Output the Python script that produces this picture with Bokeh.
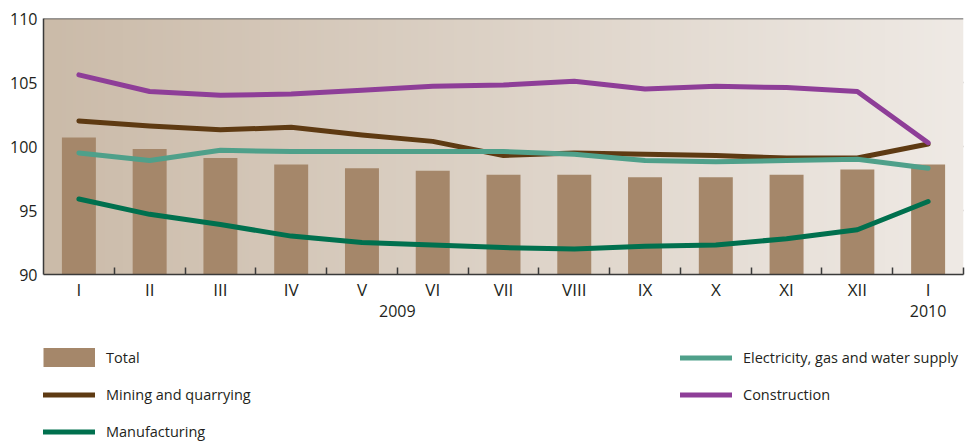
import numpy as np
from bokeh.plotting import figure
from bokeh.layouts import column
from bokeh.models import (Range1d, LinearAxis, FixedTicker, Span, Legend, LegendItem,
                          ColumnDataSource)
from bokeh.embed import file_html
from bokeh.resources import INLINE

# ---------------- data ----------------
months = ["I", "II", "III", "IV", "V", "VI", "VII", "VIII", "IX", "X", "XI", "XII", "I"]
years = ["2009", "2010"]
total = [100.7, 99.8, 99.1, 98.6, 98.3, 98.1, 97.8, 97.8, 97.6, 97.6, 97.8, 98.2, 98.6]
mining = [102.0, 101.6, 101.3, 101.5, 100.9, 100.4, 99.3, 99.5, 99.4, 99.3, 99.1, 99.1, 100.2]
manufacturing = [95.9, 94.7, 93.9, 93.0, 92.5, 92.3, 92.1, 92.0, 92.2, 92.3, 92.8, 93.5, 95.7]
electricity = [99.5, 98.9, 99.7, 99.6, 99.6, 99.6, 99.6, 99.4, 98.9, 98.8, 98.9, 99.0, 98.3]
construction = [105.6, 104.3, 104.0, 104.1, 104.4, 104.7, 104.8, 105.1, 104.5, 104.7, 104.6, 104.3, 100.3]
y_ticks = [90, 95, 100, 105, 110]

# ---------------- styles ----------------
FONT = "Open Sans"
TXT = "#231f20"
AXIS = "#3a3a3a"
BAR = "#a5876a"
C_MIN = "#5e3a12"
C_MAN = "#00704e"
C_ELE = "#4fa08a"
C_CON = "#8e3e98"

x = list(range(1, len(months) + 1))
x0, x1 = 0.5, len(months) + 0.5
y0, y1 = y_ticks[0], y_ticks[-1]

src = ColumnDataSource(dict(x=x, total=total, mining=mining, manufacturing=manufacturing,
                            electricity=electricity, construction=construction))

p = figure(width=965, height=330, output_backend="svg", toolbar_location=None,
           x_range=Range1d(x0, x1), y_range=Range1d(y0, y1),
           x_axis_type=None, y_axis_type=None,
           min_border_left=43, min_border_right=2, min_border_top=18, min_border_bottom=56,
           outline_line_color=None, background_fill_color="white", border_fill_color="white")

# background gradient
n = 256
img = np.empty((1, n), dtype=np.uint32)
view = img.view(dtype=np.uint8).reshape((1, n, 4))
c_left = np.array([203, 187, 169])
c_right = np.array([239, 234, 229])
t = np.linspace(0, 1, n)
for k in range(3):
    view[0, :, k] = (c_left[k] + (c_right[k] - c_left[k]) * t).astype(np.uint8)
view[0, :, 3] = 255
p.image_rgba(image=[img], x=x0, y=y0, dw=x1 - x0, dh=y1 - y0)

# separator between years
p.add_layout(Span(location=len(months) - 0.5, dimension="height", line_color="#f7f4f1",
                  line_width=2.5, level="underlay"))

# y axis
yaxis = LinearAxis(ticker=FixedTicker(ticks=y_ticks, minor_ticks=[]),
                   axis_line_color=AXIS, axis_line_width=1.5,
                   major_tick_out=0, major_tick_in=0, minor_tick_out=0, minor_tick_in=0,
                   major_label_standoff=6, major_label_text_font=FONT,
                   major_label_text_font_size="16px", major_label_text_color=TXT)
p.add_layout(yaxis, "left")

# x axis (months)
xaxis = LinearAxis(ticker=FixedTicker(ticks=x, minor_ticks=[v + 0.5 for v in x]),
                   major_label_overrides={v: m for v, m in zip(x, months)},
                   axis_line_color=AXIS, axis_line_width=1.5,
                   major_tick_out=0, major_tick_in=0,
                   minor_tick_out=0, minor_tick_in=7, minor_tick_line_color=AXIS,
                   minor_tick_line_width=1.5,
                   major_label_standoff=3, major_label_text_font=FONT,
                   major_label_text_font_size="17px", major_label_text_color=TXT)
p.add_layout(xaxis, "below")

# x axis (years)
year_pos = [(1 + 12) / 2 - 1, len(months)]
yearaxis = LinearAxis(ticker=FixedTicker(ticks=year_pos, minor_ticks=[]),
                      major_label_overrides={year_pos[0]: years[0], year_pos[1]: years[1]},
                      axis_line_color=None, major_tick_line_color=None, minor_tick_line_color=None,
                      major_tick_out=0, major_tick_in=0, minor_tick_out=0, minor_tick_in=0,
                      major_label_standoff=1, major_label_text_font=FONT,
                      major_label_text_font_size="16px", major_label_text_color=TXT)
p.add_layout(yearaxis, "below")

# grid
p.add_layout(Span(location=y1, dimension="width", line_color=AXIS, line_width=1.5))
for v in y_ticks[1:-1]:
    p.add_layout(Span(location=v, dimension="width", line_color="#7d736c", line_width=1.3,
                      level="underlay"))

# bars and lines
p.vbar(x="x", top="total", bottom=y0, width=0.48, source=src,
       fill_color=BAR, line_color=None)

def series(fig, col, color):
    return fig.line(x="x", y=col, source=src, line_color=color, line_width=5,
                    line_join="round", line_cap="round")

series(p, "mining", C_MIN)
series(p, "manufacturing", C_MAN)
series(p, "electricity", C_ELE)
series(p, "construction", C_CON)

# ---------------- legend figure ----------------
# its ranges keep the series out of view; they only feed the legend swatches
lf = figure(width=965, height=111, output_backend="svg", toolbar_location=None,
            x_range=Range1d(-10, -9), y_range=Range1d(0, 1),
            x_axis_type=None, y_axis_type=None,
            min_border_left=43, min_border_right=2, min_border_top=0, min_border_bottom=0,
            outline_line_color=None, background_fill_color="white", border_fill_color="white")
lf.xgrid.visible = False
lf.ygrid.visible = False
sw_total = lf.line(x="x", y="total", source=src, line_color=BAR, line_width=22,
                   line_cap="butt")
sw_min = series(lf, "mining", C_MIN)
sw_man = series(lf, "manufacturing", C_MAN)
sw_ele = series(lf, "electricity", C_ELE)
sw_con = series(lf, "construction", C_CON)

def make_legend(fig, items, loc):
    lg = Legend(items=items, location=loc, orientation="vertical",
                glyph_width=52, glyph_height=19, label_height=19, spacing=18,
                label_standoff=11, padding=0, margin=0,
                border_line_color=None, background_fill_alpha=0,
                label_text_font=FONT, label_text_font_size="14.5px", label_text_color=TXT)
    fig.add_layout(lg)
    return lg

make_legend(lf, [LegendItem(label="Total", renderers=[sw_total]),
                 LegendItem(label="Mining and quarrying", renderers=[sw_min]),
                 LegendItem(label="Manufacturing", renderers=[sw_man])], (0, 0))
make_legend(lf, [LegendItem(label="Electricity, gas and water supply", renderers=[sw_ele]),
                 LegendItem(label="Construction", renderers=[sw_con])], (637, 37))

layout = column(p, lf, spacing=0)
open("out.html", "w").write(file_html(layout, INLINE))
